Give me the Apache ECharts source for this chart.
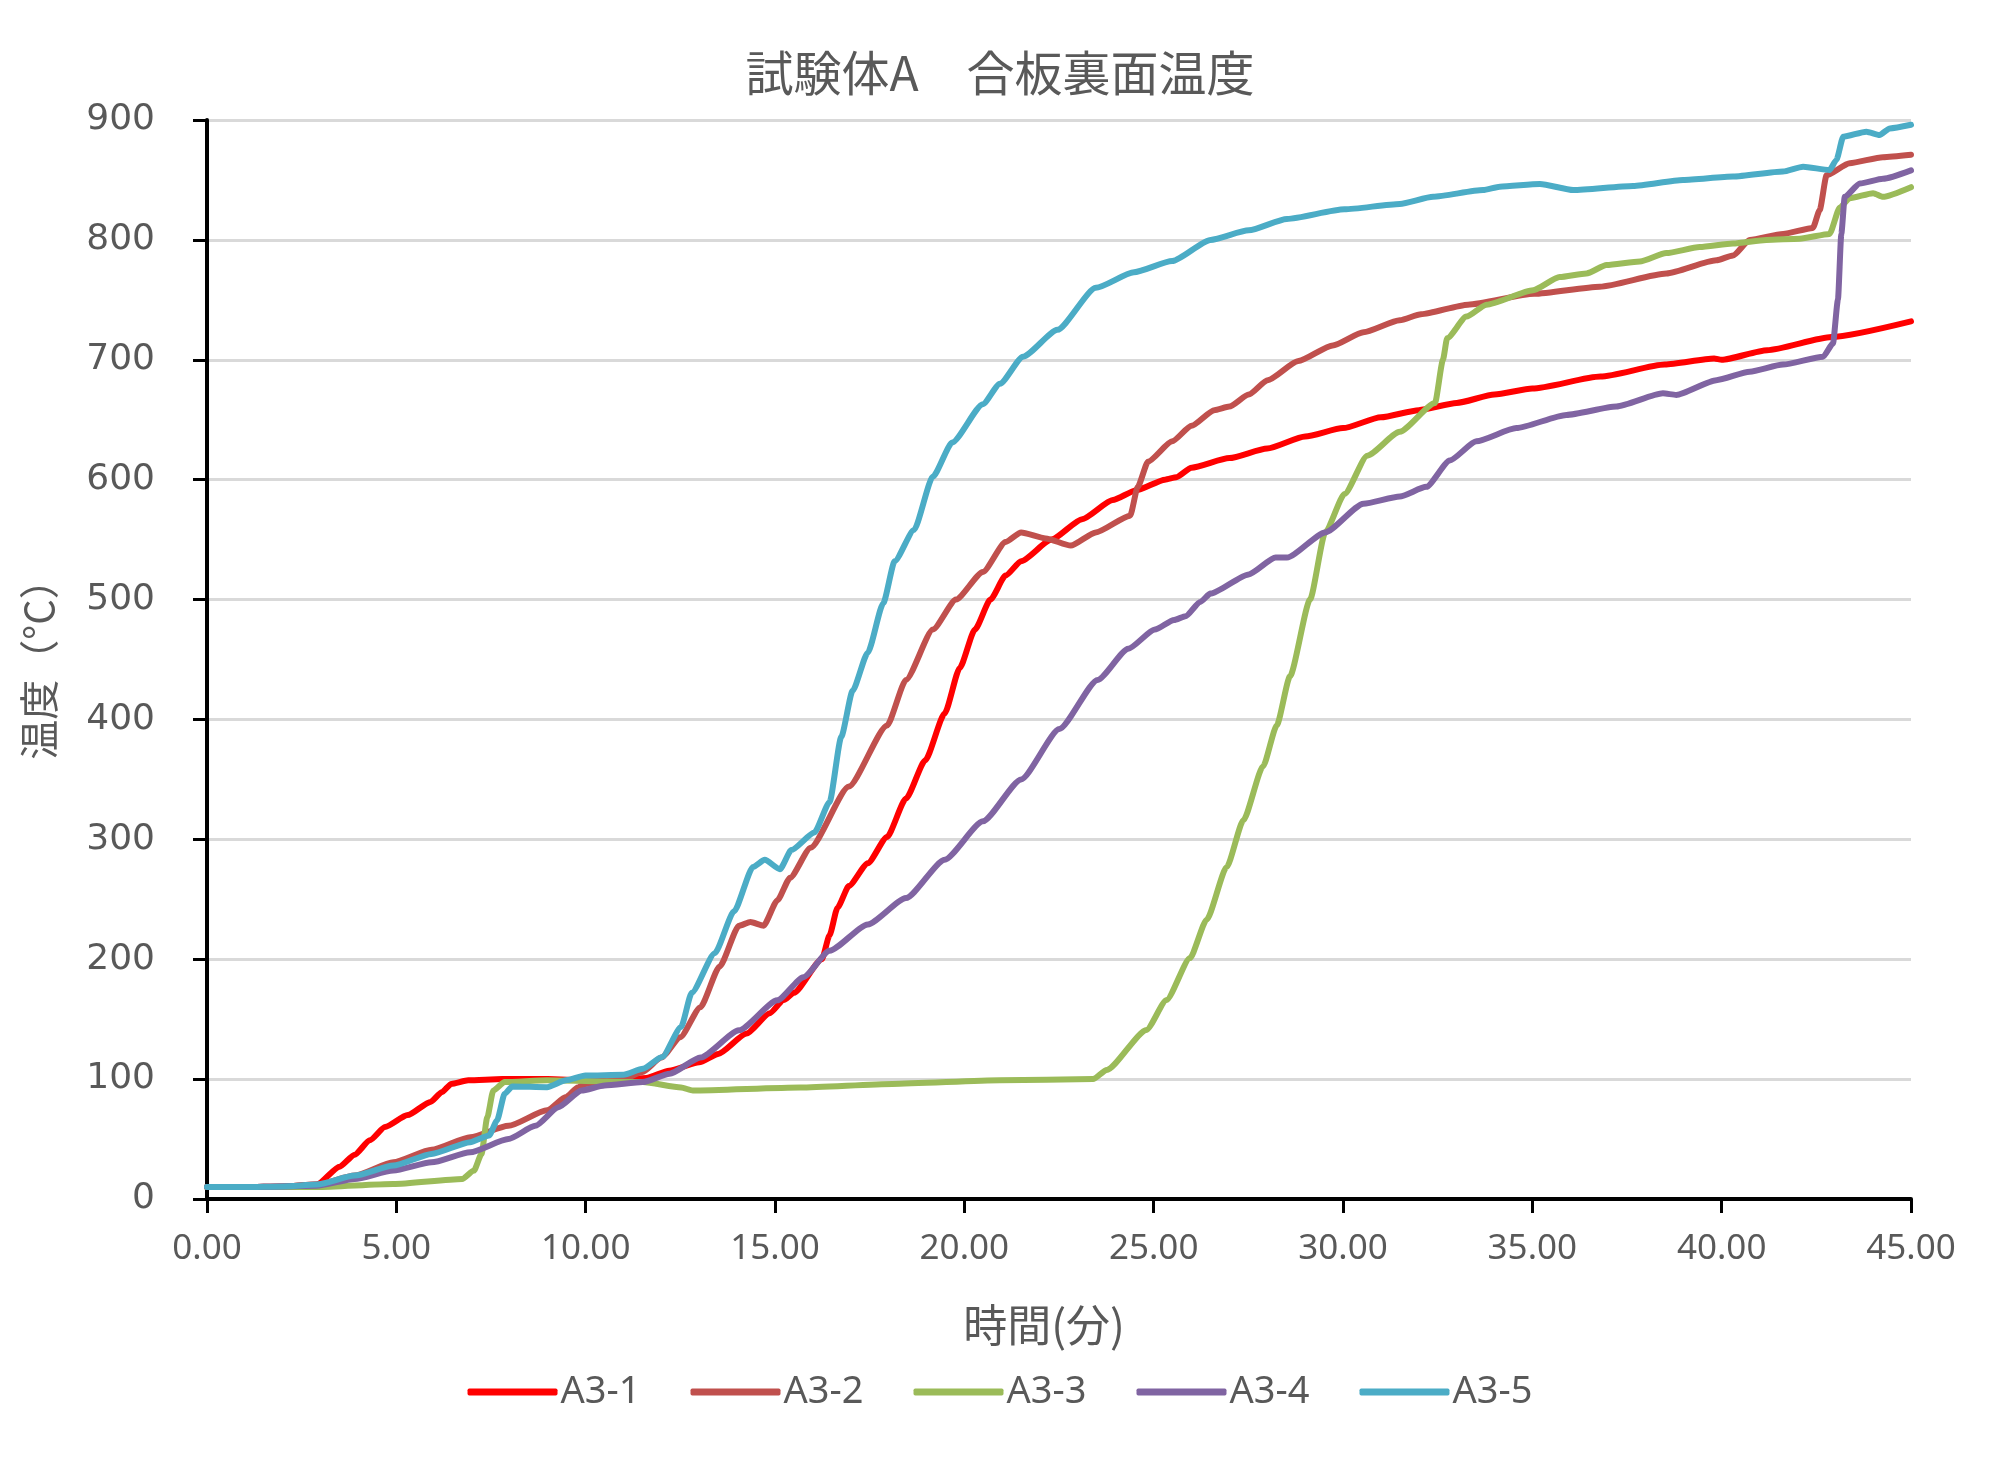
<!DOCTYPE html>
<html>
<head>
<meta charset="utf-8">
<script src="https://cdn.jsdelivr.net/npm/echarts@6/dist/echarts.min.js"></script>
<style>
html,body{margin:0;padding:0;background:#fff;}
#chart{width:2000px;height:1460px;}
</style>
</head>
<body>
<div id="chart"></div>
<script>
var seriesNames = ['A3-1', 'A3-2', 'A3-3', 'A3-4', 'A3-5'];
var xTicks = [0, 5, 10, 15, 20, 25, 30, 35, 40, 45];
var yTicks = [0, 100, 200, 300, 400, 500, 600, 700, 800, 900];

var a31 = [[0,10],[1,10],[2,10.5],[2.9,12],[3.5,27],[3.9,37],[4.3,49],[4.7,60],[5.3,70],[5.9,81],[6.2,89],[6.45,96],[6.9,99],[7.8,100],[9,100],[10,99],[11,99.5],[11.6,101],[12.2,107],[13,114],[13.5,121],[14.25,138],[14.86,155],[15.23,166],[15.5,172],[16.24,200],[16.44,220],[16.65,243],[16.95,261],[17.45,280],[17.96,302],[18.46,334],[18.97,366],[19.48,405],[19.88,443],[20.28,475],[20.69,500],[21.09,520],[21.5,532],[22.3,550],[23.11,567],[23.92,583],[24.53,591],[25.3,600],[25.6,602],[26,610],[27,618],[28,626],[29,636],[30,643],[31,652],[32,658],[33,664],[34,671],[35,676],[36.8,686],[38.5,696],[39.8,701],[40,700],[41.2,708],[42.9,719],[45,732]];

var a32 = [[0,10],[1,10],[2,10.5],[2.9,12],[3.9,19.5],[4.92,30.6],[5.93,41],[6.95,51.5],[7.96,61],[8.98,74],[9.48,85],[9.79,93],[10,96],[11,100],[11.5,106],[12,118],[12.5,135],[13.03,160],[13.54,194],[14.05,228],[14.35,231],[14.7,228],[15.06,249],[15.4,268],[15.94,293],[16.95,344],[17.96,395],[18.46,433],[19.17,475],[19.78,500],[20.49,523],[21.09,548],[21.5,556],[22.15,551],[22.81,545],[23.47,556],[24.38,570],[24.58,594],[24.85,615],[25.49,632],[26,645],[26.6,658],[27,661],[27.51,671],[28.01,683],[28.82,699],[29.73,712],[30.54,723],[31.5,733],[32.06,738],[33.3,746],[35.05,755],[36.78,761],[38.54,772],[39.86,783],[40.3,787],[40.74,800],[41.62,805],[42.41,810],[42.59,825],[42.77,854],[43.38,864],[44.26,869],[45,871]];

var a33 = [[0,10],[1,10],[2.9,10],[4.92,12.5],[6.74,16.7],[7.05,23.7],[7.25,37.6],[7.4,68],[7.56,90.5],[7.86,97.5],[8.98,99],[11.51,97.5],[12.52,93],[12.83,90.5],[15.67,93],[18.1,96],[20.94,99],[23.4,100],[23.76,107.6],[24.81,141],[25.34,166],[25.96,201],[26.4,233],[26.93,277],[27.37,316],[27.89,361],[28.25,395],[28.6,436],[29.13,500],[29.53,556],[30.04,588],[30.64,620],[31.5,640],[32.43,664],[32.64,700],[32.75,718],[33.26,736],[33.79,746],[35.02,758],[35.72,769],[36.43,772],[36.96,779],[37.84,782],[38.54,789],[39.42,794],[40.3,797],[41.18,800],[42.06,801],[42.85,805],[43.12,827],[43.38,834.7],[44,839],[44.26,836],[45,844]];

var a34 = [[0,10],[1,10],[2,10.5],[2.89,11],[3.9,16.7],[4.92,23.7],[5.93,30.6],[6.95,39],[7.96,50],[8.67,61],[9.28,76.6],[9.89,90.5],[10.5,94.7],[11.51,97.5],[12.22,104.5],[13.03,118],[14.05,140.7],[15.06,165.7],[15.75,185],[16.44,207],[17.45,229],[18.46,251],[19.48,283],[20.49,315],[21.5,350],[22.51,392],[23.52,433],[24.33,459],[25.03,475],[25.54,483],[25.84,486],[26.23,498],[26.5,505],[27.51,521],[28.22,535],[28.52,535],[29.53,556],[30.54,580],[31.5,586],[32.2,594],[32.82,616],[33.52,632],[34.58,643],[35.9,654],[37.22,661],[38.45,672],[38.8,670.7],[39.86,683],[40.74,690],[41.62,696],[42.68,702.6],[42.94,713.7],[43.07,750],[43.16,805],[43.25,836],[43.65,847],[44.26,851],[45,858]];

var a35 = [[0,10],[1,10],[2,10.5],[2.9,12],[3.9,19.5],[4.92,27.9],[5.93,37.6],[6.95,47.4],[7.45,53],[7.66,65.5],[7.86,87.7],[8.06,93.9],[8.98,93.3],[9.48,99],[9.99,103],[11,103.6],[11.51,108.6],[12.02,118.4],[12.52,143.5],[12.8,172],[13.41,205],[13.92,240],[14.42,277],[14.73,283],[15.13,275],[15.43,291],[16.04,305.7],[16.44,331],[16.75,385.5],[17.05,424],[17.45,455.7],[17.86,497],[18.16,532],[18.67,558],[19.17,602.6],[19.68,631],[20.49,663],[20.94,680],[21.55,702.6],[22.46,725],[23.47,760],[24.48,773],[25.49,782.4],[26.5,800],[27.51,808],[28.52,817.5],[30.04,825.5],[31.5,830],[32.38,836],[33.7,841.6],[34.14,844.4],[35.2,846.6],[36.08,841.6],[37.66,845],[38.98,850],[40.3,852.8],[41.62,857],[42.15,861],[42.85,858.3],[43.03,866.7],[43.21,886],[43.82,890.3],[44.17,887.5],[44.44,893],[45,896]];

var seriesData = [a31, a32, a33, a34, a35];
var colors = ['#FF0000', '#C0504D', '#9BBB59', '#8064A2', '#4BACC6'];

var chart = echarts.init(document.getElementById('chart'), null, {renderer: 'canvas'});
var labelColor = '#595959';
var option = {
  backgroundColor: '#ffffff',
  animation: false,
  title: {
    text: '試験体A　合板裏面温度',
    left: 'center',
    top: 44,
    textStyle: {
      fontFamily: '"Noto Sans CJK JP", sans-serif',
      fontSize: 48,
      fontWeight: 'normal',
      color: labelColor
    }
  },
  legend: {
    data: seriesNames,
    bottom: 44,
    left: 'center',
    icon: 'roundRect',
    itemWidth: 90,
    itemHeight: 7,
    itemGap: 50,
    textStyle: {
      fontFamily: '"Liberation Sans Narrow", "Noto Sans", sans-serif',
      fontSize: 38,
      color: labelColor,
      padding: [0, 0, 0, -2]
    }
  },
  grid: {
    left: 207,
    right: 89,
    top: 120,
    bottom: 261,
    containLabel: false
  },
  xAxis: {
    type: 'value',
    min: xTicks[0],
    max: xTicks[xTicks.length - 1],
    interval: 5,
    name: '時間(分)',
    nameLocation: 'middle',
    nameGap: 104,
    nameTextStyle: {
      fontFamily: '"Noto Sans CJK JP", sans-serif',
      fontSize: 44,
      color: labelColor,
      padding: [0, 30, 0, 0]
    },
    axisLine: {show: true, onZero: false, lineStyle: {color: '#000', width: 4}},
    axisTick: {show: true, inside: false, length: 14, lineStyle: {color: '#000', width: 3}},
    axisLabel: {
      margin: 33,
      fontFamily: '"Liberation Sans Narrow", "Noto Sans", sans-serif',
      fontSize: 35,
      color: labelColor,
      formatter: function (v) { return v.toFixed(2); }
    },
    splitLine: {show: false}
  },
  yAxis: {
    type: 'value',
    min: yTicks[0],
    max: yTicks[yTicks.length - 1],
    interval: 100,
    name: '温度（°C）',
    nameLocation: 'middle',
    nameRotate: 90,
    nameGap: 148,
    nameTextStyle: {
      fontFamily: '"Noto Sans CJK JP", sans-serif',
      fontSize: 40,
      color: labelColor
    },
    axisLine: {show: true, lineStyle: {color: '#000', width: 4}},
    axisTick: {show: true, inside: false, length: 14, lineStyle: {color: '#000', width: 3}},
    axisLabel: {
      margin: 52,
      fontFamily: '"DejaVu Sans", sans-serif',
      fontSize: 36,
      color: labelColor
    },
    splitLine: {show: true, lineStyle: {color: '#D9D9D9', width: 3}}
  },
  series: seriesNames.map(function (n, i) {
    return {
      name: n,
      type: 'line',
      data: seriesData[i],
      symbol: 'none',
      smooth: 0.2,
      smoothMonotone: 'x',
      color: colors[i],
      lineStyle: {color: colors[i], width: 6, cap: 'round', join: 'round'},
      itemStyle: {color: colors[i]}
    };
  })
};
chart.setOption(option);
</script>
</body>
</html>
